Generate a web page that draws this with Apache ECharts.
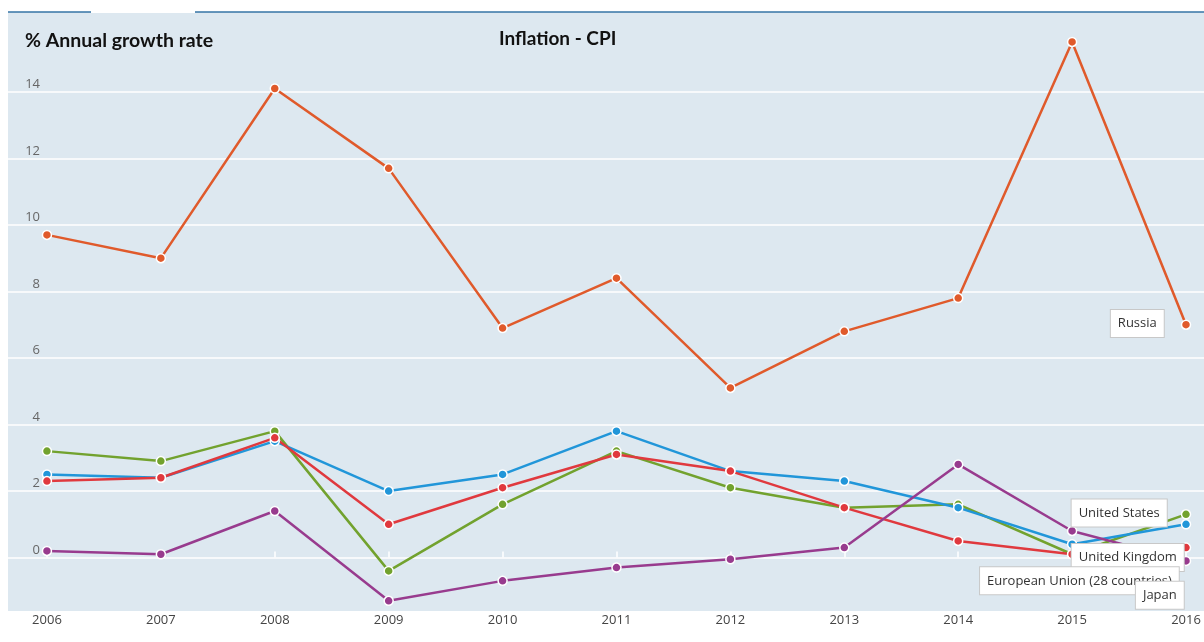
<!DOCTYPE html>
<html>
<head>
<meta charset="utf-8">
<title>Inflation - CPI</title>
<script src="https://cdn.jsdelivr.net/npm/echarts@6/dist/echarts.min.js"></script>
<style>
    html, body {
        margin: 0;
        padding: 0;
        background: #fff;
    }
    #chart {
        width: 1204px;
        height: 642px;
    }
</style>
</head>
<body>
<div id="chart"></div>
<script>
// 数据：年份和各国CPI年增长率
const years = [2006, 2007, 2008, 2009, 2010, 2011, 2012, 2013, 2014, 2015, 2016];
const yTicks = [0, 2, 4, 6, 8, 10, 12, 14];

const russia = [9.7, 9.0, 14.1, 11.7, 6.9, 8.4, 5.1, 6.8, 7.8, 15.5, 7.0];
const unitedStates = [3.2, 2.9, 3.8, -0.4, 1.6, 3.2, 2.1, 1.5, 1.6, 0.1, 1.3];
const unitedKingdom = [2.5, 2.4, 3.5, 2.0, 2.5, 3.8, 2.6, 2.3, 1.5, 0.4, 1.0];
const europeanUnion = [2.3, 2.4, 3.6, 1.0, 2.1, 3.1, 2.6, 1.5, 0.5, 0.1, 0.3];
const japan = [0.2, 0.1, 1.4, -1.3, -0.7, -0.3, -0.05, 0.3, 2.8, 0.8, -0.1];

const seriesNames = ['Russia', 'United States', 'United Kingdom', 'European Union (28 countries)', 'Japan'];

let chartDom = document.getElementById('chart');
let myChart = echarts.init(chartDom);
let option;

// 最后一个点带标签
function buildData(values, labelPos, align, vAlign) {
    return values.map((v, i) => {
        if (i !== values.length - 1) return [years[i], v];
        return {
            value: [years[i], v],
            label: {
                show: true,
                position: labelPos,
                align: align,
                verticalAlign: vAlign
            }
        };
    });
}

function makeSeries(name, values, color, labelPos, align, vAlign) {
    return {
        name: name,
        type: 'line',
        data: buildData(values, labelPos, align, vAlign),
        symbol: 'circle',
        symbolSize: 9,
        lineStyle: {
            width: 2.5,
            color: color
        },
        itemStyle: {
            color: color,
            borderColor: '#fff',
            borderWidth: 1.5
        },
        label: {
            show: false,
            formatter: name,
            fontFamily: 'Open Sans',
            fontSize: 13,
            color: '#333',
            backgroundColor: '#fff',
            borderColor: '#c8c8c8',
            borderWidth: 1,
            padding: [7, 7]
        },
        emphasis: { disabled: true },
        clip: false,
        z: 3
    };
}

option = {
    animation: false,
    title: [
        {
            text: '% Annual growth rate',
            left: 25,
            top: 31,
            padding: 0,
            textStyle: {
                fontFamily: 'Lato',
                fontSize: 19.5,
                fontWeight: 'bold',
                color: '#111'
            }
        },
        {
            text: 'Inflation - CPI',
            left: 499,
            top: 29,
            padding: 0,
            textStyle: {
                fontFamily: 'Lato',
                fontSize: 19,
                fontWeight: 'bold',
                color: '#111'
            }
        }
    ],
    grid: {
        left: 8,
        right: 0,
        top: 12,
        bottom: 31,
        show: true,
        backgroundColor: '#dde8f0',
        borderWidth: 0
    },
    xAxis: {
        type: 'value',
        min: 2005.658,
        max: 2016.158,
        axisLine: { show: false },
        splitLine: { show: false },
        axisTick: {
            customValues: years,
            inside: true,
            length: 6,
            lineStyle: { color: '#fff', width: 1.5 }
        },
        axisLabel: {
            customValues: years,
            margin: 3,
            fontFamily: 'Open Sans',
            fontSize: 13,
            color: '#444',
            formatter: v => String(v)
        }
    },
    yAxis: {
        type: 'value',
        min: -1.606,
        max: 16.4,
        axisLine: { show: false },
        axisTick: {
            show: false,
            customValues: yTicks
        },
        axisLabel: {
            customValues: yTicks,
            inside: true,
            align: 'right',
            verticalAlign: 'bottom',
            margin: 32,
            padding: [0, 0, 1, 0],
            fontFamily: 'Open Sans',
            fontSize: 13,
            color: '#666'
        },
        splitLine: {
            show: true,
            lineStyle: { color: '#fff', width: 1.5 }
        }
    },
    // 顶部蓝色边线
    graphic: [
        {
            type: 'line',
            shape: { x1: 8, y1: 12, x2: 91, y2: 12 },
            style: { stroke: '#3474a6', lineWidth: 1.5 },
            z: 10
        },
        {
            type: 'line',
            shape: { x1: 195, y1: 12, x2: 1204, y2: 12 },
            style: { stroke: '#3474a6', lineWidth: 1.5 },
            z: 10
        },
        {
            type: 'rect',
            shape: { x: 91, y: 11, width: 104, height: 2 },
            style: { fill: '#fff' },
            z: 10
        }
    ],
    series: [
        makeSeries(seriesNames[0], russia, '#e05a2b', [-17, 4], 'right', 'middle'),
        makeSeries(seriesNames[1], unitedStates, '#72a22e', [-14, 4], 'right', 'middle'),
        makeSeries(seriesNames[2], unitedKingdom, '#2196d9', [3, 25], 'right', 'top'),
        makeSeries(seriesNames[3], europeanUnion, '#e0393e', [-2, 25], 'right', 'top'),
        makeSeries(seriesNames[4], japan, '#983b8e', [3, 26], 'right', 'top')
    ]
};

option && myChart.setOption(option);
</script>
</body>
</html>
